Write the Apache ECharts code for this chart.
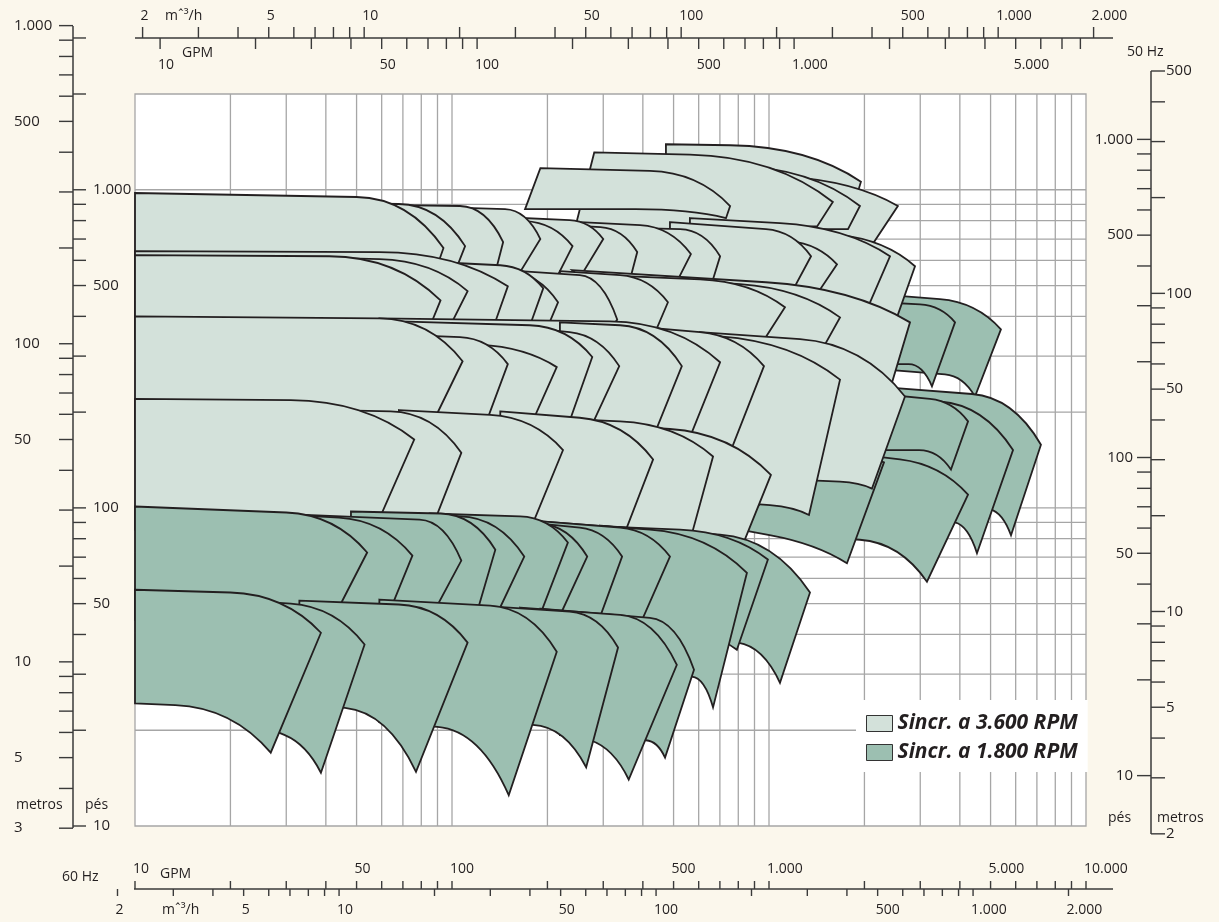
<!DOCTYPE html>
<html>
<head>
<meta charset="utf-8">
<script src="https://cdn.jsdelivr.net/npm/echarts@6/dist/echarts.min.js"></script>
<style>
  html, body { margin: 0; padding: 0; background: #fbf7ec; }
  #chart { width: 1219px; height: 922px; }
</style>
</head>
<body>
<div id="chart"></div>
<script>
// main scale: x = GPM at 60 Hz, y = feet at 60 Hz; the other scales are the same grid relabelled
const M3H_PER_GPM = 0.22712
const M_PER_FT = 0.3048
const Q50 = 50 / 60
const H50 = Q50 * Q50

const gridGpm = [20, 30, 40, 50, 60, 70, 80, 90, 100, 200, 300, 400, 500, 600, 700, 800, 900,
  1000, 2000, 3000, 4000, 5000, 6000, 7000, 8000, 9000]
const gridFt = [20, 30, 40, 50, 60, 70, 80, 90, 100, 200, 300, 400, 500, 600, 700, 800, 900, 1000]

// axis ticks / labels
const m3h50Ticks = [2, 3, 4, 5, 6, 7, 8, 9, 10, 20, 30, 40, 50, 60, 70, 80, 90, 100, 200, 300, 400, 500,
  600, 700, 800, 900, 1000, 2000]
const m3h50Labels = [2, 5, 10, 50, 100, 500, 1000, 2000]
const gpm50Ticks = [10, 20, 30, 40, 50, 60, 70, 80, 90, 100, 200, 300, 400, 500, 600, 700, 800, 900,
  1000, 2000, 3000, 4000, 5000, 6000, 7000, 8000]
const gpm50Labels = [10, 50, 100, 500, 1000, 5000]
const gpm60Ticks = [10, 20, 30, 40, 50, 60, 70, 80, 90, 100, 200, 300, 400, 500, 600, 700, 800, 900,
  1000, 2000, 3000, 4000, 5000, 6000, 7000, 8000, 9000, 10000]
const gpm60Labels = [10, 50, 100, 500, 1000, 5000, 10000]
const m3h60Ticks = [2, 3, 4, 5, 6, 7, 8, 9, 10, 20, 30, 40, 50, 60, 70, 80, 90, 100, 200, 300, 400, 500,
  600, 700, 800, 900, 1000, 2000]
const m3h60Labels = [2, 5, 10, 50, 100, 500, 1000, 2000]
const m60Ticks = [3, 4, 5, 6, 7, 8, 9, 10, 20, 30, 40, 50, 60, 70, 80, 90, 100, 200, 300, 400, 500,
  600, 700, 800, 900, 1000]
const m60Labels = [3, 5, 10, 50, 100, 500, 1000]
const ft60Ticks = [10, 20, 30, 40, 50, 60, 70, 80, 90, 100, 200, 300, 400, 500, 600, 700, 800, 900,
  1000, 2000, 3000]
const ft60Labels = [10, 50, 100, 500, 1000]
const ft50Ticks = [10, 20, 30, 40, 50, 60, 70, 80, 90, 100, 200, 300, 400, 500, 600, 700, 800, 900, 1000]
const ft50Labels = [10, 50, 100, 500, 1000]
const m50Ticks = [2, 3, 4, 5, 6, 7, 8, 9, 10, 20, 30, 40, 50, 60, 70, 80, 90, 100, 200, 300, 400, 500]
const m50Labels = [2, 5, 10, 50, 100, 500]

// pump fields, [GPM, ft] at 60 Hz:
// top-left, top knee, top-right, bottom-right, bottom-left, (bottom knee)
// every row is listed back to front
const fastRowT = [
  [[473, 1390], [754, 1380], [1950, 1060], [1740, 725], [473, 725]],
  [[606, 1146], [1165, 1097], [2550, 889], [2144, 685], [606, 685]],
  [[397, 1196], [781, 1187], [1936, 889], [1775, 752], [397, 752]],
  [[281, 1310], [563, 1290], [1590, 915], [1420, 768], [244, 752]],
  [[190, 1170], [421, 1146], [754, 889], [732, 815], [170, 869]]
]
const fastRowA = [
  [[936, 763], [1675, 720], [2888, 575], [2533, 397], [936, 397]],
  [[563, 815], [1083, 785], [2408, 618], [2038, 421], [563, 421]],
  [[701, 725], [1165, 690], [1639, 583], [1347, 436], [701, 436]],
  [[487, 791], [978, 752], [1357, 618], [1148, 453], [487, 453]],
  [[294, 763], [524, 752], [701, 618], [637, 453], [294, 453]],
  [[219, 797], [392, 774], [567, 628], [480, 453], [219, 453]],
  [[176, 785], [294, 763], [384, 637], [351, 453], [176, 453]],
  [[142, 821], [235, 803], [300, 700], [235, 469], [142, 469]],
  [[114, 809], [170, 797], [240, 665], [201, 469], [114, 469]],
  [[92, 882], [147, 869], [190, 700], [152, 487], [92, 487]],
  [[68, 895], [106, 889], [145, 685], [134, 505], [68, 505]],
  [[44, 908], [68, 902], [110, 665], [100, 523], [44, 523]],
  [[10, 977], [50, 949], [94, 656], [88, 543], [10, 543]]
]
const fastRowB = [
  [[239, 559], [978, 512], [2785, 383], [2408, 236], [606, 236]],
  [[392, 531], [810, 505], [1675, 397], [1490, 322], [392, 322]],
  [[294, 539], [606, 523], [1123, 427], [923, 315], [294, 315]],
  [[219, 555], [339, 539], [480, 443], [421, 326], [219, 326]],
  [[164, 555], [253, 539], [332, 391], [294, 326], [164, 326]],
  [[92, 579], [152, 555], [216, 443], [193, 339], [92, 339]],
  [[79, 596], [142, 579], [194, 490], [170, 339], [79, 339]],
  [[10, 641], [59, 637], [150, 497], [131, 339], [10, 339]],
  [[33, 614], [59, 605], [112, 480], [94, 339], [33, 339]],
  [[10, 623], [41, 618], [92, 449], [82, 339], [10, 339]]
]
const fastRowC = [
  [[606, 357], [1253, 339], [2685, 224], [2113, 115], [936, 124], [1675, 121]],
  [[392, 361], [701, 346], [1675, 253], [1337, 95], [606, 106], [1007, 102]],
  [[339, 375], [606, 357], [964, 279], [759, 152], [339, 152]],
  [[59, 394], [315, 386], [701, 287], [551, 158], [59, 158]],
  [[219, 383], [339, 375], [531, 279], [428, 164], [219, 164]],
  [[164, 370], [235, 357], [337, 279], [263, 164], [164, 164]],
  [[68, 386], [176, 375], [277, 298], [227, 170], [68, 170]],
  [[59, 339], [122, 326], [214, 277], [172, 170], [59, 170]],
  [[59, 352], [106, 344], [150, 283], [124, 170], [59, 170]],
  [[10, 400], [59, 394], [108, 289], [85, 177], [10, 177]]
]
const fastRowD = [
  [[294, 183], [487, 177], [1014, 127], [822, 75.5], [294, 75.5]],
  [[190, 192], [339, 187], [666, 145], [559, 76.6], [190, 76.6]],
  [[142, 201], [253, 192], [431, 142], [344, 79.4], [142, 79.4]],
  [[68, 203], [132, 196], [224, 152], [174, 82.4], [68, 82.4]],
  [[33, 204], [64, 201], [107, 149], [86, 85.5], [33, 85.5]],
  [[10, 220], [31, 218], [76, 164], [57, 85.5], [10, 85.5]]
]
const slowHighRow1 = [
  [[2240, 469], [3460, 453], [5390, 364], [4465, 224], [2240, 273], [3590, 263]],
  [[2240, 443], [2995, 436], [3862, 383], [3267, 241], [2240, 283]]
]
const slowHighRow2 = [
  [[2240, 240], [4370, 228], [7210, 158], [5800, 82], [2590, 115], [4980, 99]],
  [[2240, 223], [3460, 216], [5885, 152], [4530, 72], [2240, 102], [3860, 90]],
  [[2240, 228], [3220, 220], [4245, 187], [3750, 132], [2240, 152]],
  [[1936, 147], [2589, 142], [4245, 110], [3150, 58.6], [1253, 82], [1936, 79.4]],
  [[1253, 150], [1675, 148], [2305, 139], [1762, 67], [810, 85.5], [1014, 82]]
]
const slowLowRowA = [
  [[294, 88], [701, 82.4], [1347, 54.2], [1083, 28.2], [421, 41.4], [798, 37.7]],
  [[219, 88.6], [524, 85.5], [992, 68.8], [792, 35.8], [294, 35.8], [606, 38.5]],
  [[190, 90.6], [421, 85.5], [852, 62.5], [666, 23.6], [294, 31], [571, 29.5]],
  [[164, 91.9], [339, 86.7], [487, 70.3], [389, 42.3], [164, 42.3]],
  [[142, 91.9], [253, 86.7], [344, 70.3], [287, 42.9], [142, 42.9]],
  [[106, 93.2], [190, 89.3], [267, 70.3], [216, 44.5], [106, 44.5]],
  [[85, 96], [164, 94], [232, 77.8], [187, 44.5], [85, 44.5]],
  [[59, 95.3], [106, 94], [169, 70.3], [136, 44.5], [59, 44.5]],
  [[48, 97.4], [92, 96], [137, 73.9], [118, 44.5], [48, 44.5]],
  [[33, 95.3], [79, 91.9], [107, 68.3], [85, 44.5], [33, 44.5]],
  [[23, 96.7], [44, 93.2], [75, 70.8], [62, 44.5], [23, 44.5]],
  [[10, 101], [30, 96.7], [54, 72.4], [42, 44.5], [10, 44.5]]
]
const slowLowRowB = [
  [[190, 48.2], [421, 45.1], [580, 31], [470, 16.4], [219, 19.3], [409, 18.6]],
  [[164, 48.6], [339, 46.1], [512, 32.1], [361, 14], [190, 20.9], [273, 18.6]],
  [[122, 49.3], [235, 47.2], [334, 36.4], [265, 15.3], [122, 21.2], [180, 20.8]],
  [[59, 51.5], [132, 49.3], [214, 35.3], [151, 12.5], [59, 21.2], [90, 20.5]],
  [[33, 51.1], [68, 49.7], [112, 37.7], [77, 14.8], [33, 24.3], [46, 23.5]],
  [[20, 51.5], [31, 50], [53, 37.2], [38.6, 14.7], [20, 22.8], [29.7, 19.3]],
  [[10, 55.3], [20, 54.2], [38.6, 40.5], [26.8, 17], [10, 24.3], [13.4, 24]]
]

const FAST = 'Sincr. a 3.600 RPM'
const SLOW = 'Sincr. a 1.800 RPM'
const FAST_FILL = '#d3e1da'
const SLOW_FILL = '#9cbfb1'
const INK = '#231f20'
const AXIS = '#3a3a3a'
const GRID = '#a6a6a6'
const FONT = '"Open Sans", "Noto Sans", sans-serif'

const fmt = v => String(v).replace(/\B(?=(\d{3})+(?!\d))/g, '.')

function ctrl(a, k, b) {
  const run = k[0] - a[0]
  const slope = run ? (k[1] - a[1]) / run : 0
  const d = (b[0] - k[0]) * 0.6
  return [k[0] + d, k[1] + d * slope]
}

function fieldPath(field, api) {
  const p = field.map(v => api.coord(v))
  const [tl, tk, tr, br, bl] = p
  const bk = p[5] || [bl[0] + 0.55 * (br[0] - bl[0]), bl[1]]
  const ct = ctrl(tl, tk, tr)
  const cb = ctrl(bl, bk, br)
  return 'M' + tl + 'L' + tk + 'Q' + ct + ' ' + tr + 'L' + br + 'Q' + cb + ' ' + bk + 'L' + bl + 'Z'
}

function fieldSeries(name, rows, fill) {
  const fields = rows.flat()
  return {
    type: 'custom',
    name,
    silent: true,
    clip: false,
    z: 3,
    itemStyle: { color: fill },
    data: fields.map(f => f[0]),
    renderItem: (params, api) => ({
      type: 'path',
      shape: { pathData: fieldPath(fields[params.dataIndex], api) },
      style: { fill, stroke: INK, lineWidth: 1.8 }
    })
  }
}

function label(text, x, y, align, size) {
  return {
    type: 'text',
    style: {
      text, x, y, fill: INK, font: size + 'px ' + FONT,
      align, verticalAlign: 'middle', textAlign: align, textVerticalAlign: 'middle'
    }
  }
}

// ticks on a horizontal scale; toMain converts the scale's unit to 60 Hz GPM
function xTicks(ticks, labels, toMain, y0, y1, labelY) {
  return {
    type: 'custom',
    silent: true,
    clip: false,
    z: 4,
    data: ticks.map(v => [v * toMain, 100]),
    renderItem: (params, api) => {
      const v = ticks[params.dataIndex]
      const x = api.coord([v * toMain, 100])[0]
      const children = [{ type: 'line', shape: { x1: x, y1: y0, x2: x, y2: y1 }, style: { stroke: AXIS, lineWidth: 1.4 } }]
      if (labels.includes(v)) children.push(label(fmt(v), x - 2, labelY, 'left', 14))
      return { type: 'group', children }
    }
  }
}

// ticks on a vertical scale; toMain converts the scale's unit to 60 Hz feet
function yTicks(ticks, labels, toMain, x0, x1, labelX, align) {
  return {
    type: 'custom',
    silent: true,
    clip: false,
    z: 4,
    data: ticks.map(v => [100, v * toMain]),
    renderItem: (params, api) => {
      const v = ticks[params.dataIndex]
      const y = api.coord([100, v * toMain])[1]
      const children = [{ type: 'line', shape: { x1: x0, y1: y, x2: x1, y2: y }, style: { stroke: AXIS, lineWidth: 1.4 } }]
      if (labels.includes(v)) children.push(label(fmt(v), labelX, y, align, 15))
      return { type: 'group', children }
    }
  }
}

const gridSeries = {
  type: 'custom',
  silent: true,
  z: 1,
  data: gridGpm.map(v => [v, 10]).concat(gridFt.map(v => [10, v])),
  renderItem: (params, api) => {
    const i = params.dataIndex
    let a, b
    if (i < gridGpm.length) {
      a = api.coord([gridGpm[i], 10]); b = api.coord([gridGpm[i], 2000])
    } else {
      const v = gridFt[i - gridGpm.length]
      a = api.coord([10, v]); b = api.coord([10000, v])
    }
    return { type: 'line', shape: { x1: a[0], y1: a[1], x2: b[0], y2: b[1] }, style: { stroke: GRID, lineWidth: 1.3 } }
  }
}

const axisLine = (x1, y1, x2, y2) => ({ type: 'line', shape: { x1, y1, x2, y2 }, style: { stroke: AXIS, lineWidth: 1.5 }, z: 5 })
const text = (t, x, y, align) => ({
  type: 'text', z: 5,
  style: { text: t, x, y, fill: INK, font: '14px ' + FONT, align: align || 'left', verticalAlign: 'middle',
    textAlign: align || 'left', textVerticalAlign: 'middle' }
})

const chart = echarts.init(document.getElementById('chart'))
chart.setOption({
  animation: false,
  backgroundColor: '#fbf7ec',
  grid: { left: 135, top: 94, width: 951, height: 732, show: true, backgroundColor: '#fff', borderColor: GRID, borderWidth: 1.3 },
  xAxis: { type: 'log', min: 10, max: 10000, show: false },
  yAxis: { type: 'log', min: 10, max: 2000, show: false },
  legend: {
    data: [FAST, SLOW],
    orient: 'vertical',
    left: 856,
    top: 700,
    padding: [13, 10, 9, 10],
    itemGap: 8,
    itemWidth: 26,
    itemHeight: 16,
    icon: 'rect',
    selectedMode: false,
    backgroundColor: '#fff',
    z: 10,
    itemStyle: { borderColor: '#333', borderWidth: 1 },
    textStyle: { fontFamily: FONT, fontSize: 21, fontWeight: 'bold', fontStyle: 'italic', color: INK }
  },
  graphic: [
    axisLine(135, 38, 1113, 38),
    axisLine(134, 889, 1113, 889),
    axisLine(73, 26, 73, 828),
    axisLine(1151, 71, 1151, 834),
    text('m\u02c6\u00b3/h', 165, 16),
    text('GPM', 182, 53),
    text('50 Hz', 1127, 52),
    text('GPM', 160, 874),
    text('m\u02c6\u00b3/h', 162, 910),
    text('60 Hz', 62, 877),
    text('metros', 16, 805),
    text('pés', 85, 805),
    text('pés', 1108, 818),
    text('metros', 1157, 818)
  ],
  series: [
    gridSeries,
    fieldSeries(SLOW, [slowHighRow1, slowHighRow2], SLOW_FILL),
    fieldSeries(FAST, [fastRowT, fastRowA, fastRowB, fastRowC, fastRowD], FAST_FILL),
    fieldSeries(SLOW, [slowLowRowA, slowLowRowB], SLOW_FILL),
    xTicks(m3h50Ticks, m3h50Labels, 1 / (M3H_PER_GPM * Q50), 38, 27, 16),
    xTicks(gpm50Ticks, gpm50Labels, 1 / Q50, 38, 49, 65),
    xTicks(gpm60Ticks, gpm60Labels, 1, 889, 881, 869),
    xTicks(m3h60Ticks, m3h60Labels, 1 / M3H_PER_GPM, 889, 896, 910),
    yTicks(m60Ticks, m60Labels, 1 / M_PER_FT, 59, 73, 14, 'left'),
    yTicks(ft60Ticks, ft60Labels, 1, 73, 86, 93, 'left'),
    yTicks(ft50Ticks, ft50Labels, 1 / H50, 1137, 1151, 1133, 'right'),
    yTicks(m50Ticks, m50Labels, 1 / (M_PER_FT * H50), 1151, 1165, 1166, 'left')
  ]
})
</script>
</body>
</html>
